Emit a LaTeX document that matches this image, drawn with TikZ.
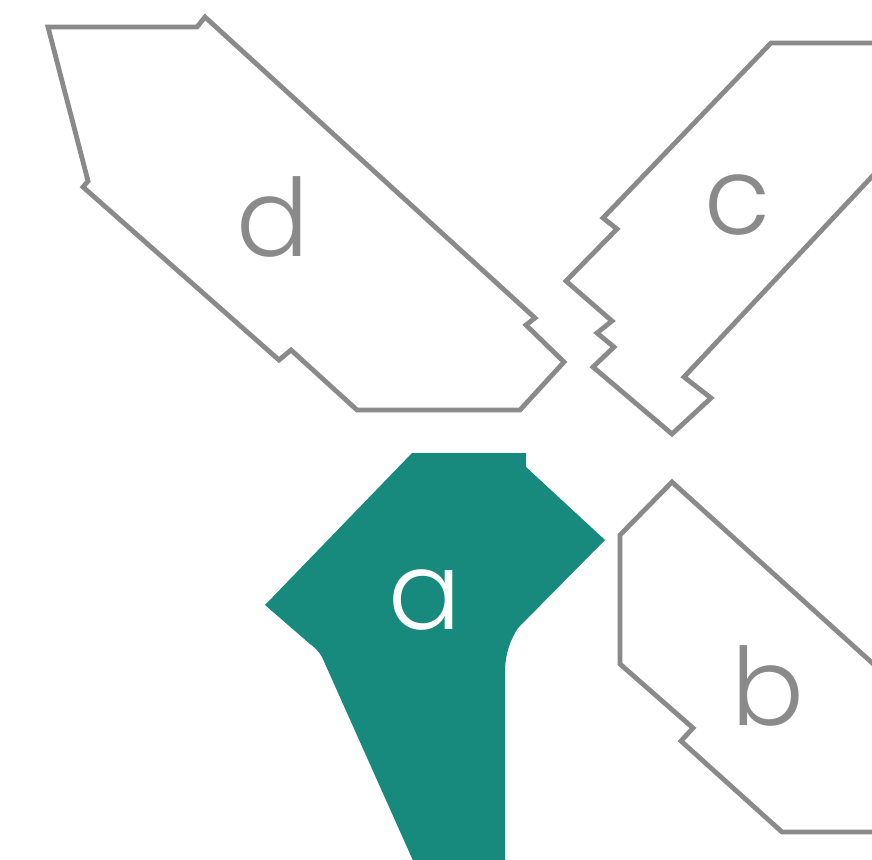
\documentclass[tikz,border=0pt]{standalone}
\usepackage{fontspec}
\setmainfont{Poppins}[UprightFont=* Light]
\definecolor{outl}{HTML}{8A8A8A}
\definecolor{teal}{HTML}{178A7D}
\begin{document}
\begin{tikzpicture}[x=1pt,y=-1pt,
  piece/.style={draw=outl,line width=4.8pt,line join=miter,fill=white},
  lbl/.style={font=\fontsize{108}{108}\selectfont,text=outl,inner sep=0pt}]
\useasboundingbox (0,0) rectangle (872,859);
\fill[white] (0,0) rectangle (872,859);
% d
\draw[piece] (48,27) -- (197,27) -- (205,17) -- (535,318) -- (526,325) -- (564,362)
  -- (520,410) -- (357,410) -- (291,350) -- (279,360) -- (83,187) -- (88,181) -- cycle;
% c
\draw[piece] (880,43) -- (771,43) -- (603,218) -- (617,229) -- (566,281) -- (612,321)
  -- (597,333) -- (614,347) -- (593,367) -- (672,434) -- (711,398) -- (684,377) -- (880,168);
% b
\draw[piece] (880,670) -- (672,482) -- (620,535) -- (620,664) -- (693,728) -- (681,741)
  -- (782,832) -- (880,832);
% a
\fill[teal] (412,453) -- (526,453) -- (526,467) -- (605,540) -- (518,628)
  .. controls (510,640) and (505,655) .. (505,672) -- (505,865) -- (415,865)
  -- (322,657) .. controls (318,650) and (314,647) .. (310,644) -- (265,605) -- cycle;
\node[lbl] (ld) at (273,217) {d};
\node[lbl] (lc) at (738,205) {c};
\node[lbl] (lb) at (768,686) {b};
\node[lbl,text=white] (la) at (425,600) {a};
\end{tikzpicture}
\end{document}
